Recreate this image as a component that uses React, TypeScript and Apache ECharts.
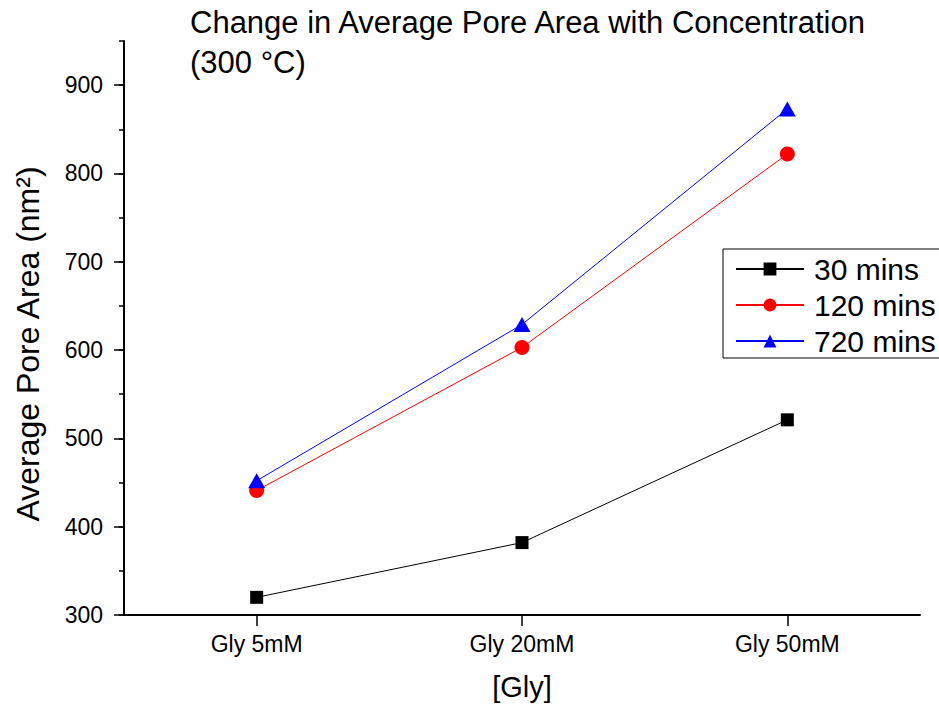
import React, { useEffect, useRef } from "react";
import * as echarts from "echarts";

const categories = ["Gly 5mM", "Gly 20mM", "Gly 50mM"];
const mins30 = [320, 382, 521];
const mins120 = [441, 603, 822];
const mins720 = [452, 629, 873];
const yMajorTicks = [300, 400, 500, 600, 700, 800, 900];
const seriesNames = ["30 mins", "120 mins", "720 mins"];

const FONT = "Liberation Sans, Arial, sans-serif";

export default function App() {
  const ref = useRef<HTMLDivElement>(null);
  useEffect(() => {
    document.body.style.margin = "0";
    if (!ref.current) return;
    const chart = echarts.init(ref.current, undefined, { renderer: "svg" });
    const axisColor = "#000";
    chart.setOption({
      animation: false,
      backgroundColor: "#fff",
      textStyle: { fontFamily: FONT },
      title: {
        text: "Change in Average Pore Area with Concentration\n(300 °C)",
        left: 190,
        top: 2,
        padding: 0,
        textStyle: {
          fontFamily: FONT,
          fontSize: 31,
          fontWeight: "normal",
          color: "#000",
          lineHeight: 40,
        },
      },
      graphic: [
        {
          type: "text",
          x: 28,
          y: 344,
          rotation: Math.PI / 2,
          style: {
            text: "Average Pore Area (nm²)",
            fontFamily: FONT,
            fontSize: 32,
            fill: "#000",
            textAlign: "center",
            textVerticalAlign: "middle",
          },
        },
      ],
      grid: { left: 124, right: 19, top: 41, bottom: 82, containLabel: false },
      legend: {
        orient: "vertical",
        left: 723,
        top: 249,
        padding: [5, 40, 2, 12],
        borderColor: "#000",
        borderWidth: 1,
        itemWidth: 68,
        itemHeight: 16,
        itemGap: 6,
        data: seriesNames,
        textStyle: {
          fontFamily: FONT,
          fontSize: 30,
          lineHeight: 28,
          color: "#000",
          padding: [0, 0, 0, 5],
        },
      },
      xAxis: {
        type: "category",
        data: categories,
        boundaryGap: true,
        name: "[Gly]",
        nameLocation: "middle",
        nameGap: 57,
        nameTextStyle: { fontFamily: FONT, fontSize: 29, color: "#000" },
        axisLine: { show: true, lineStyle: { color: axisColor, width: 2 } },
        axisTick: {
          show: true,
          alignWithLabel: true,
          length: 11,
          lineStyle: { color: axisColor, width: 1.5 },
        },
        axisLabel: { fontFamily: FONT, fontSize: 23, color: "#000", margin: 17 },
        splitLine: { show: false },
      },
      yAxis: [
        {
          type: "value",
          min: 300,
          max: 950,
          interval: 50,
          position: "left",
          axisLine: { show: true, lineStyle: { color: axisColor, width: 2 } },
          axisTick: { show: true, length: 5, lineStyle: { color: axisColor, width: 1.5 } },
          axisLabel: { show: false },
          splitLine: { show: false },
        },
        {
          type: "value",
          min: 300,
          max: 950,
          interval: 100,
          position: "left",
          axisLine: { show: false },
          axisTick: {
            show: true,
            length: 10,
            customValues: yMajorTicks,
            lineStyle: { color: axisColor, width: 1.5 },
          },
          axisLabel: {
            show: true,
            customValues: yMajorTicks,
            fontFamily: FONT,
            fontSize: 23,
            color: "#000",
            margin: 21,
          },
          splitLine: { show: false },
        },
      ],
      series: [
        {
          name: seriesNames[0],
          type: "line",
          data: mins30,
          yAxisIndex: 0,
          symbol: "rect",
          symbolSize: 13,
          itemStyle: { color: "#000" },
          lineStyle: { color: "#000", width: 1 },
        },
        {
          name: seriesNames[1],
          type: "line",
          data: mins120,
          yAxisIndex: 0,
          symbol: "circle",
          symbolSize: 15,
          itemStyle: { color: "#ff0000" },
          lineStyle: { color: "#ff0000", width: 1 },
        },
        {
          name: seriesNames[2],
          type: "line",
          data: mins720,
          yAxisIndex: 0,
          symbol: "triangle",
          symbolSize: [17, 15],
          itemStyle: { color: "#0000ff" },
          lineStyle: { color: "#0000ff", width: 1 },
        },
      ],
    });
    return () => chart.dispose();
  }, []);
  return <div ref={ref} style={{ width: 939, height: 706 }} />;
}
